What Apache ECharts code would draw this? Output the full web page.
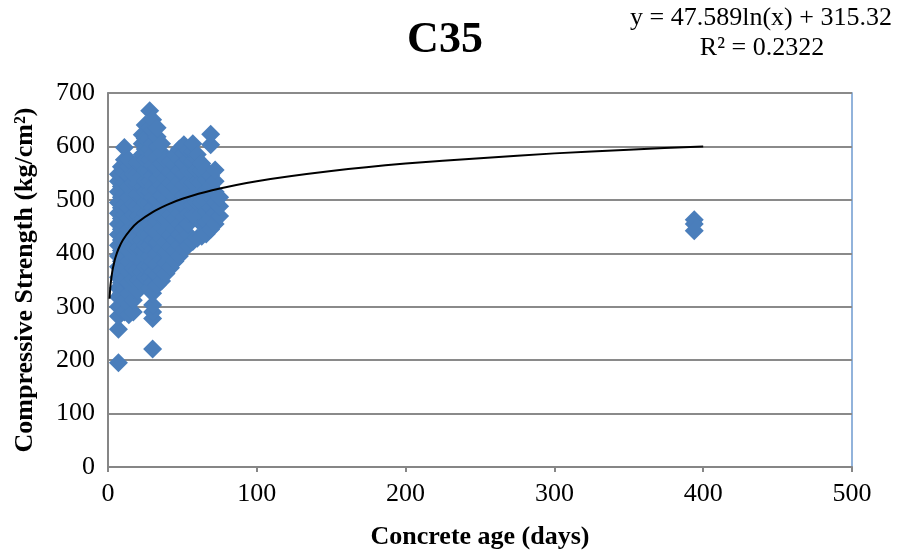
<!DOCTYPE html>
<html>
<head>
<meta charset="utf-8">
<script src="https://cdn.jsdelivr.net/npm/echarts@6/dist/echarts.min.js"></script>
<style>
html,body{margin:0;padding:0;background:#ffffff;}
#chart{width:902px;height:556px;}
</style>
</head>
<body>
<div id="chart"></div>
<script>
// ---- data ----
const chartTitle = 'C35';
const xAxisTitle = 'Concrete age (days)';
const yAxisTitle = 'Compressive Strength (kg/cm²)';
const equationLines = ['y = 47.589ln(x) + 315.32', 'R² = 0.2322'];

// test ages (days) and the strengths measured at each age (kg/cm²)
const ages = [7, 9, 11, 14, 17, 20, 23, 25, 28, 30, 33, 36, 39, 42, 45, 48, 51, 54, 57, 60, 63, 66, 69, 72, 75];
const strengths = [
  [195, 258, 282, 300, 318, 335, 355, 375, 395, 415, 435, 455, 475, 495, 515, 535, 548],
  [300, 325, 345, 365, 385, 405, 425, 445, 465, 485, 505, 525, 545, 562],
  [290, 312, 332, 352, 372, 392, 412, 432, 452, 472, 492, 512, 532, 552, 575, 598],
  [285, 305, 325, 345, 365, 385, 405, 425, 445, 465, 485, 505, 525, 545, 562, 575],
  [290, 312, 332, 352, 372, 392, 412, 432, 452, 472, 492, 512, 532, 548],
  [330, 350, 370, 390, 410, 430, 450, 470, 490, 510, 530, 550, 570],
  [345, 365, 385, 405, 425, 445, 465, 485, 505, 525, 545, 565, 585, 605, 622],
  [355, 375, 395, 415, 435, 455, 475, 495, 515, 535, 555, 575, 595, 615, 640],
  [335, 355, 375, 395, 415, 435, 455, 475, 495, 515, 535, 555, 575, 595, 615, 635, 667],
  [221, 278, 290, 303, 325, 345, 365, 385, 405, 425, 445, 465, 485, 505, 525, 545, 565, 585, 605, 630, 650],
  [340, 360, 380, 400, 420, 440, 460, 480, 500, 520, 540, 560, 580, 600, 618, 635],
  [348, 368, 388, 408, 428, 448, 468, 488, 508, 528, 548, 568, 588, 605],
  [362, 382, 402, 422, 442, 462, 482, 502, 522, 542, 560, 575],
  [373, 393, 413, 433, 453, 473, 493, 513, 533, 553, 572],
  [385, 405, 425, 445, 465, 485, 505, 525, 545, 565, 585],
  [395, 415, 435, 455, 475, 495, 515, 535, 555, 575, 595],
  [408, 428, 448, 468, 488, 508, 528, 548, 568, 588, 603],
  [415, 435, 455, 475, 495, 515, 535, 555, 575, 592],
  [422, 472, 492, 512, 532, 552, 572, 590, 605],
  [428, 476, 496, 516, 536, 556, 576, 585],
  [432, 455, 475, 495, 515, 535, 555, 568],
  [436, 458, 478, 498, 518, 538, 556],
  [445, 465, 485, 505, 525, 545, 603, 623],
  [455, 475, 495, 515, 535, 556],
  [470, 488, 505]
];
const lateAge = 394;
const lateStrengths = [463, 455, 442];

// logarithmic trend line
const trendAges = [1, 1.5, 2, 3, 4, 5, 7, 10, 15, 20, 30, 40, 50, 70, 100, 150, 200, 250, 300, 350, 400];
const trendValues = [315, 335, 348, 368, 381, 392, 408, 425, 444, 458, 477, 491, 502, 518, 535, 554, 568, 578, 587, 594, 600];

const xTicks = [0, 100, 200, 300, 400, 500];
const yTicks = [0, 100, 200, 300, 400, 500, 600, 700];

// ---- build series data ----
const scatterData = [];
ages.forEach((a, i) => strengths[i].forEach(v => scatterData.push([a, v])));
lateStrengths.forEach(v => scatterData.push([lateAge, v]));
const trendData = trendAges.map((a, i) => [a, trendValues[i]]);

const serif = '"Liberation Serif", "Times New Roman", serif';
const chart = echarts.init(document.getElementById('chart'), null, {renderer: 'canvas'});
chart.setOption({
  animation: false,
  backgroundColor: '#ffffff',
  grid: {
    left: 108, right: 50, top: 93, bottom: 89,
    containLabel: false, outerBoundsMode: 'none',
    show: true, borderColor: '#6f9bd0', borderWidth: 1.5, backgroundColor: 'transparent'
  },
  xAxis: {
    type: 'value',
    min: xTicks[0], max: xTicks[xTicks.length - 1], interval: 100,
    name: xAxisTitle, nameLocation: 'middle', nameGap: 57,
    nameTextStyle: {fontFamily: serif, fontWeight: 'bold', fontSize: 26, color: '#000'},
    axisLine: {show: true, lineStyle: {color: '#868686', width: 2}},
    axisTick: {show: true, length: 5, lineStyle: {color: '#868686', width: 2}},
    axisLabel: {fontFamily: serif, fontSize: 26, color: '#000', margin: 14},
    splitLine: {show: false}
  },
  yAxis: {
    type: 'value',
    min: yTicks[0], max: yTicks[yTicks.length - 1], interval: 100,
    name: yAxisTitle, nameLocation: 'middle', nameGap: 70, nameRotate: 90,
    nameTextStyle: {fontFamily: serif, fontWeight: 'bold', fontSize: 26, color: '#000'},
    axisLine: {show: true, lineStyle: {color: '#868686', width: 2}},
    axisTick: {show: false},
    axisLabel: {fontFamily: serif, fontSize: 26, color: '#000', margin: 13},
    splitLine: {show: true, lineStyle: {color: '#8a8a8a', width: 2}}
  },
  title: {
    text: chartTitle,
    left: 440, top: 14, textAlign: 'center',
    textStyle: {fontFamily: serif, fontWeight: 'bold', fontSize: 44, color: '#000'}
  },
  graphic: [
    {type: 'text', x: 761, y: 18, style: {text: equationLines[0], fontFamily: serif, fontSize: 26, fill: '#000', textAlign: 'center', textVerticalAlign: 'middle'}},
    {type: 'text', x: 762, y: 48, style: {text: equationLines[1], fontFamily: serif, fontSize: 26, fill: '#000', textAlign: 'center', textVerticalAlign: 'middle'}}
  ],
  series: [
    {
      type: 'scatter',
      data: scatterData,
      symbol: 'diamond',
      symbolSize: 19,
      itemStyle: {color: '#4a7ebb', opacity: 1},
      z: 2
    },
    {
      type: 'line',
      data: trendData,
      smooth: 0.2,
      showSymbol: false,
      lineStyle: {color: '#000', width: 2},
      z: 3
    }
  ]
});
</script>
</body>
</html>
